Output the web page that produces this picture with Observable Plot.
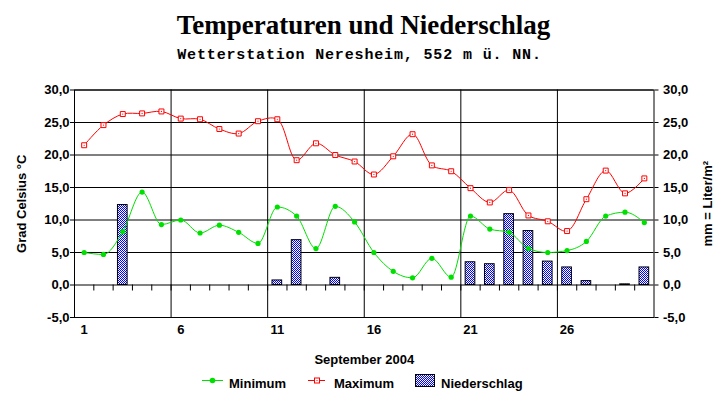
<!DOCTYPE html>
<html><head><meta charset="utf-8">
<script src="https://cdn.jsdelivr.net/npm/d3@7"></script>
<script src="https://cdn.jsdelivr.net/npm/@observablehq/plot@0.6"></script>
<style>
body{margin:0;background:#fff;}
#wrap{position:relative;width:727px;height:404px;overflow:hidden;background:#fff;font-family:"Liberation Sans",Arial,sans-serif;color:#000;}
#title{position:absolute;left:0;top:10px;width:727px;text-align:center;font:bold 27px/30px "Liberation Serif","Times New Roman",serif;}
#subtitle{position:absolute;left:0;top:47px;width:719px;text-align:center;font:bold 15px/17px "Liberation Mono","Courier New",monospace;letter-spacing:0.85px;}
#chart{position:absolute;left:0;top:68px;}
.leg{position:absolute;top:376px;font:bold 13px/15px "Liberation Sans",Arial,sans-serif;white-space:nowrap;}
.sw{position:absolute;}
</style>
</head><body>
<div id="wrap">
  <div id="title">Temperaturen und Niederschlag</div>
  <div id="subtitle">Wetterstation Neresheim, 552 m ü. NN.</div>
  <div id="chart"></div>
  <svg class="sw" style="left:202px;top:375px" width="22" height="11"><line x1="0" x2="21" y1="5.5" y2="5.5" stroke="#00e000"/><circle cx="10.5" cy="5.5" r="2.8" fill="#00e000"/></svg>
  <div class="leg" style="left:229px">Minimum</div>
  <svg class="sw" style="left:308px;top:375px" width="18" height="11"><line x1="0" x2="17" y1="5.5" y2="5.5" stroke="red"/><rect x="6.5" y="3" width="5" height="5" fill="white" stroke="red"/><rect x="8.5" y="5" width="1" height="1" fill="red"/></svg>
  <div class="leg" style="left:334px">Maximum</div>
  <svg class="sw" style="left:415px;top:374px" width="20" height="14"><defs><pattern id="nsPatternLeg" patternUnits="userSpaceOnUse" width="2" height="2"><rect width="2" height="2" fill="white" shape-rendering="crispEdges"/><rect width="1" height="1" fill="#0000ff" shape-rendering="crispEdges"/><rect x="1" y="1" width="1" height="1" fill="#0000ff" shape-rendering="crispEdges"/></pattern></defs><rect x="0.5" y="0.5" width="19" height="12" fill="url(#nsPatternLeg)" stroke="black"/></svg>
  <div class="leg" style="left:441px">Niederschlag</div>
</div>
<script>
const days = [1,2,3,4,5,6,7,8,9,10,11,12,13,14,15,16,17,18,19,20,21,22,23,24,25,26,27,28,29,30];
const tmin = [5.0,4.7,8.2,14.3,9.3,10.0,8.0,9.2,8.1,6.4,12.0,10.6,5.6,12.1,9.7,5.0,2.1,1.1,4.1,1.2,10.6,8.6,8.1,5.6,5.0,5.3,6.7,10.6,11.2,9.6];
const tmax = [21.5,24.6,26.3,26.4,26.7,25.6,25.5,24.0,23.3,25.2,25.5,19.2,21.8,20.0,19.0,17.0,19.8,23.2,18.4,17.5,14.9,12.7,14.6,10.7,9.8,8.3,13.2,17.6,14.1,16.4];
const rain = [0,0,12.3,0,0,0,0,0,0,0,0.7,6.9,0,1.1,0,0,0,0,0,0,3.5,3.2,10.9,8.3,3.6,2.7,0.6,0,0.1,2.7];
const yTicks = [-5,0,5,10,15,20,25,30];
const xTickDays = [1,6,11,16,21,26];
const weekBounds = [5.5,10.5,15.5,20.5,25.5];
const dayBounds = [1.5,2.5,3.5,4.5,5.5,6.5,7.5,8.5,9.5,10.5,11.5,12.5,13.5,14.5,15.5,16.5,17.5,18.5,19.5,20.5,21.5,22.5,23.5,24.5,25.5,26.5,27.5,28.5,29.5];

const data = days.map((d,i) => ({day:d, tmin:tmin[i], tmax:tmax[i], rain:rain[i]}));
const fmt = v => v.toFixed(1).replace(".", ",");
const green = "#00e000";

const chart = Plot.plot({
  width: 727, height: 300,
  marginLeft: 74, marginRight: 73.5, marginTop: 21.5, marginBottom: 51,
  x: {domain: [0.5, 30.5]},
  y: {domain: [-5, 30]},
  style: {fontFamily: "'Liberation Sans', Arial, sans-serif", fontSize: "13px", fontWeight: "bold", color: "black", background: "white", overflow: "visible"},
  marks: [
    Plot.ruleY(yTicks, {stroke: "black"}),
    Plot.ruleX(weekBounds, {stroke: "black"}),
    Plot.frame({stroke: "black"}),
    Plot.rect(data.filter(d => d.rain > 0), {x1: d => d.day - 0.25, x2: d => d.day + 0.25, y1: 0, y2: "rain", fill: "url(#nsPattern)", stroke: "black"}),
    Plot.ruleX(dayBounds, {y1: 0, y2: 0, insetBottom: -6, stroke: "black"}),
    Plot.line(data, {x: "day", y: "tmin", stroke: green, strokeWidth: 1, curve: "monotone-x"}),
    Plot.line(data, {x: "day", y: "tmax", stroke: "red", strokeWidth: 1, curve: "catmull-rom"}),
    Plot.dot(data, {x: "day", y: "tmin", r: 2.6, fill: green}),
    Plot.dot(data, {x: "day", y: "tmax", r: 2.8, symbol: "square", fill: "white", stroke: "red", strokeWidth: 1}),
    Plot.dot(data, {x: "day", y: "tmax", r: 0.6, fill: "red"}),
    Plot.axisY(yTicks, {anchor: "left", tickFormat: fmt, tickSize: 4, tickPadding: 1, fontSize: 13, fontWeight: "bold", label: "Grad Celsius °C", labelAnchor: "center", labelOffset: 58, labelArrow: "none"}),
    Plot.axisY(yTicks, {anchor: "right", tickFormat: fmt, tickSize: 4, tickPadding: 5, fontSize: 13, fontWeight: "bold", label: "mm = Liter/m²", labelAnchor: "center", labelOffset: 58, labelArrow: "none"}),
    Plot.axisX(xTickDays, {anchor: "bottom", tickSize: 0, tickPadding: 7, fontSize: 13, fontWeight: "bold", label: "September 2004", labelAnchor: "center", labelOffset: 46, labelArrow: "none"})
  ]
});
const svg = chart.tagName.toLowerCase() === "svg" ? chart : chart.querySelector("svg");
d3.select(svg).insert("defs", ":first-child").html('<pattern id="nsPattern" patternUnits="userSpaceOnUse" width="2" height="2"><rect width="2" height="2" fill="white" shape-rendering="crispEdges"/><rect width="1" height="1" fill="#0000ff" shape-rendering="crispEdges"/><rect x="1" y="1" width="1" height="1" fill="#0000ff" shape-rendering="crispEdges"/></pattern>');
document.getElementById("chart").appendChild(chart);
</script>
</body></html>
